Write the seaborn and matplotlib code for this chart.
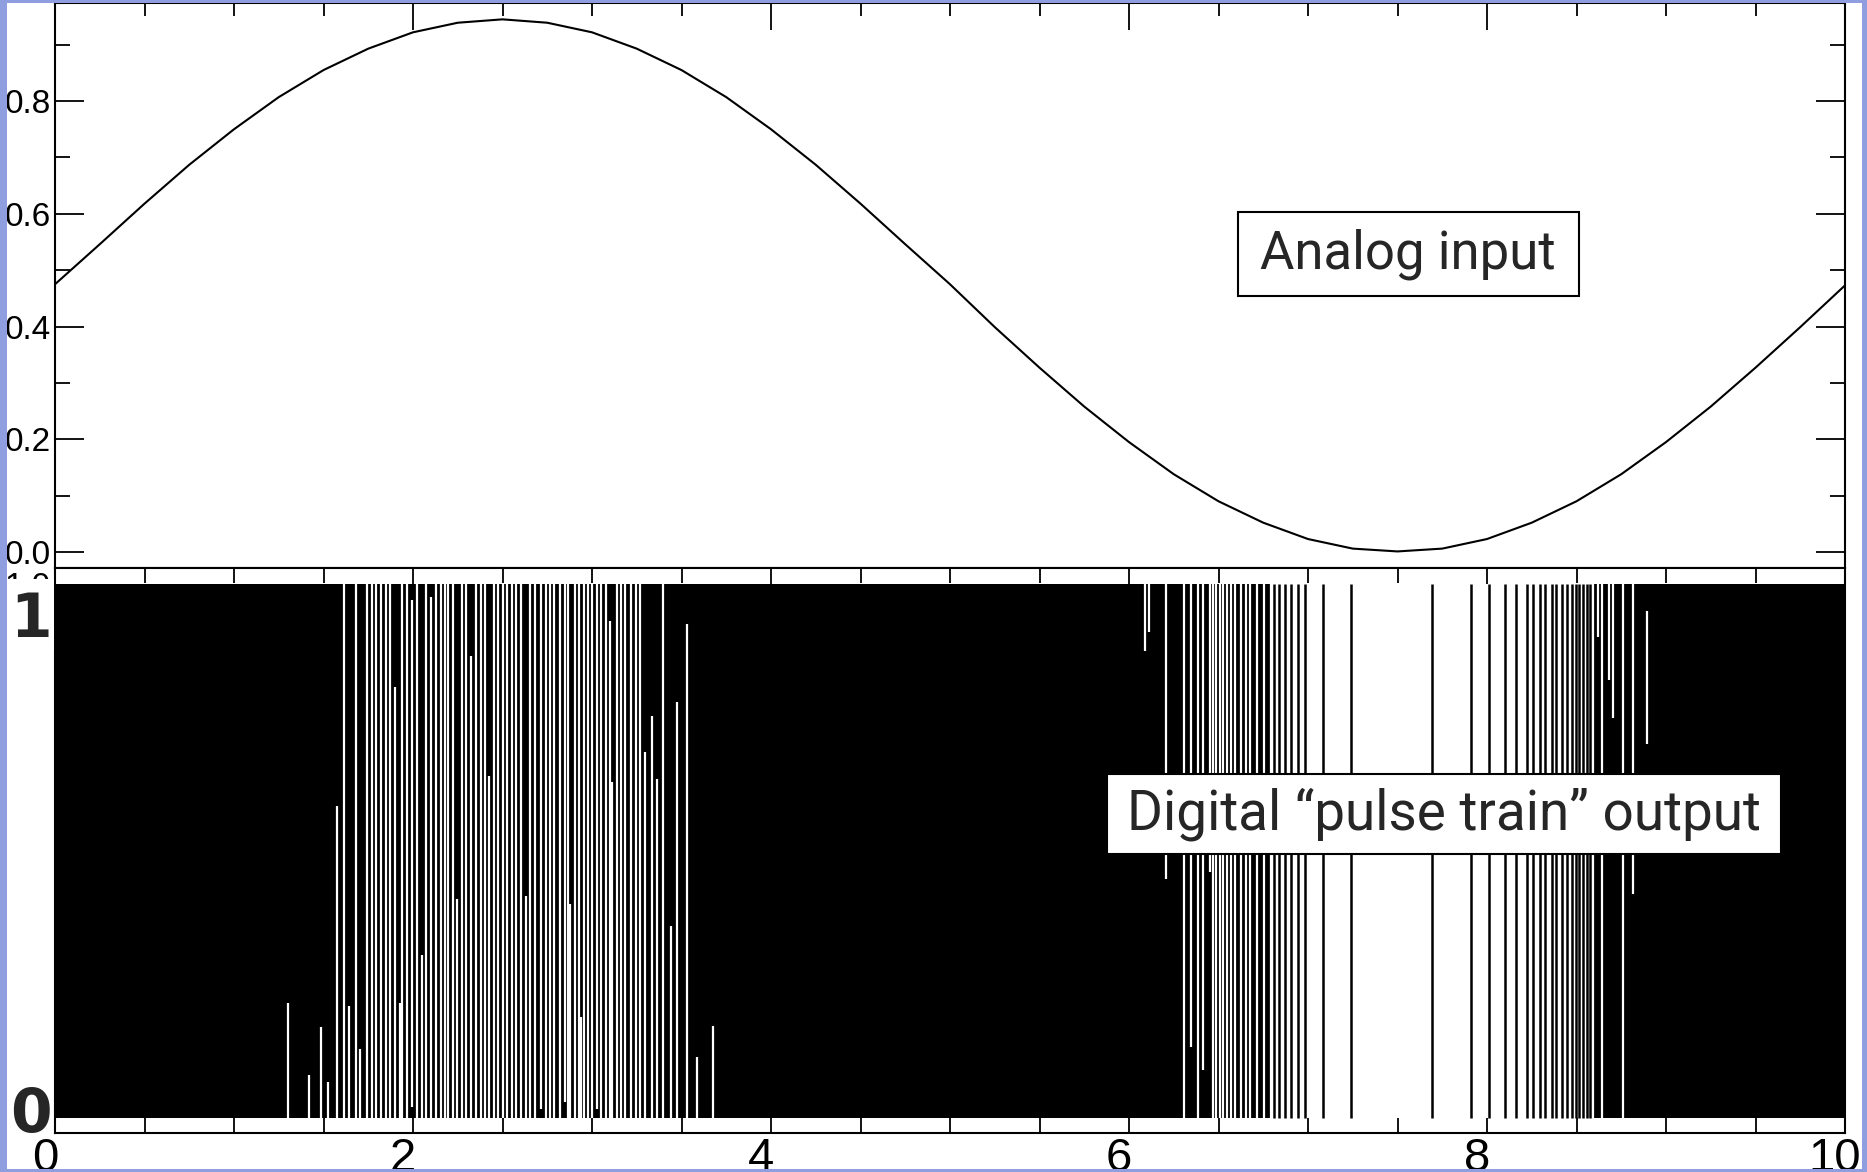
import numpy as np
import pandas as pd
import matplotlib
matplotlib.use("Agg")
import matplotlib.pyplot as plt
import seaborn as sns
from matplotlib import font_manager
from matplotlib.patches import Rectangle
from matplotlib.ticker import MultipleLocator, FixedLocator, FixedFormatter
from matplotlib.transforms import ScaledTranslation

# ---------------------------------------------------------------------------
# Analog input (sampled every 0.25 time units)
# ---------------------------------------------------------------------------
analog_t = np.arange(0, 10.001, 0.25)
analog_level = [
    0.475, 0.546, 0.618, 0.687, 0.750, 0.807, 0.855, 0.893, 0.922, 0.939,
    0.945, 0.939, 0.922, 0.893, 0.855, 0.807, 0.750, 0.687, 0.618, 0.546,
    0.475, 0.399, 0.327, 0.258, 0.195, 0.138, 0.090, 0.052, 0.023, 0.006,
    0.001, 0.006, 0.023, 0.052, 0.090, 0.138, 0.195, 0.258, 0.327, 0.399,
    0.473,
]

# ---------------------------------------------------------------------------
# Digital pulse train: the output sits at the high level except for the
# zero-gaps listed here (position, lower and upper extent of each gap).
# ---------------------------------------------------------------------------
gap_x = [
    1.303, 1.421, 1.484, 1.525, 1.575, 1.614, 1.641, 1.682, 1.706, 1.743,
    1.771, 1.795, 1.823, 1.849, 1.874, 1.902, 1.928, 1.941, 1.967, 1.995,
    2.023, 2.051, 2.074, 2.099, 2.128, 2.154, 2.177, 2.198, 2.222, 2.248,
    2.272, 2.297, 2.325, 2.351, 2.379, 2.403, 2.425, 2.450, 2.475, 2.500,
    2.526, 2.552, 2.578, 2.604, 2.631, 2.653, 2.680, 2.713, 2.741, 2.765,
    2.790, 2.821, 2.847, 2.867, 2.877, 2.903, 2.925, 2.940, 2.955, 2.978,
    3.000, 3.026, 3.050, 3.076, 3.100, 3.113, 3.138, 3.164, 3.186, 3.216,
    3.246, 3.270, 3.296, 3.337, 3.361, 3.399, 3.440, 3.477, 3.533, 3.585,
    3.676,
    6.087, 6.111, 6.204, 6.310, 6.348, 6.385, 6.413, 6.450, 6.469, 6.487,
    6.506, 6.525, 6.547, 6.568, 6.594, 6.627, 6.651, 6.678, 6.717, 6.754,
    6.795,
    8.594, 8.618, 8.641, 8.683, 8.706, 8.762, 8.814, 8.892,
]
gap_lo = [
    0, 0, 0, 0, 0, 0, 0, 0, 0, 0,
    0, 0, 0, 0, 0, 0, 0, 0, 0, 0.02,
    0, 0, 0, 0, 0, 0, 0, 0, 0, 0,
    0, 0, 0, 0, 0, 0, 0, 0, 0, 0,
    0, 0, 0, 0, 0, 0, 0, 0.017, 0, 0,
    0, 0, 0.03, 0, 0, 0, 0, 0, 0, 0,
    0, 0.017, 0, 0, 0, 0, 0, 0, 0, 0,
    0, 0, 0, 0, 0, 0, 0, 0, 0, 0,
    0,
    0.874, 0.91, 0.447, 0, 0.133, 0, 0.09, 0.46, 0, 0,
    0, 0, 0, 0, 0, 0, 0, 0, 0, 0,
    0,
    0, 0.90, 0, 0.82, 0.75, 0, 0.42, 0.70,
]
gap_hi = [
    0.215, 0.08, 0.17, 0.067, 0.584, 1, 0.21, 1, 0.13, 1,
    1, 1, 1, 1, 1, 0.807, 0.215, 1, 1, 0.97,
    1, 0.306, 1, 0.975, 1, 1, 1, 1, 1, 0.41,
    1, 1, 0.865, 1, 1, 1, 0.64, 1, 1, 1,
    1, 1, 1, 1, 0.416, 1, 1, 1, 1, 1,
    1, 1, 1, 1, 0.40, 1, 1, 0.19, 1, 1,
    1, 1, 1, 1, 0.93, 0.63, 1, 1, 1, 1,
    1, 1, 0.685, 0.753, 0.635, 1, 0.36, 0.78, 0.925, 0.114,
    0.172,
    1, 1, 1, 1, 1, 1, 1, 1, 1, 1,
    1, 1, 1, 1, 1, 1, 1, 1, 1, 1,
    1,
    1, 1, 1, 1, 1, 1, 1, 0.95,
]

# Stretch where the output is mostly low, with isolated high pulses
quiet_start, quiet_end = 6.80, 8.585
pulse_x = [
    6.812, 6.840, 6.870, 6.905, 6.945, 6.985, 7.084, 7.242, 7.690, 7.913,
    8.012, 8.100, 8.161, 8.225, 8.258, 8.296, 8.325, 8.361, 8.385, 8.417,
    8.445, 8.473, 8.497, 8.516, 8.538, 8.557, 8.575,
]

x_major = [0, 2, 4, 6, 8, 10]
x_major_labels = ["0", "2", "4", "6", "8", "10"]
y_major = [0.0, 0.2, 0.4, 0.6, 0.8]
y_major_labels = ["0.0", "0.2", "0.4", "0.6", "0.8"]

# ---------------------------------------------------------------------------
W, H, DPI = 1867, 1172, 100
sns.set_theme(style="white")


def pick_font(*names):
    available = {f.name for f in font_manager.fontManager.ttflist}
    for n in names:
        if n in available:
            return n
    return "DejaVu Sans"


axis_font = pick_font("Liberation Sans Narrow", "Liberation Sans",
                      "DejaVu Sans")
note_font = pick_font("Roboto", "Noto Sans", "DejaVu Sans")
plt.rcParams["font.family"] = [axis_font, "DejaVu Sans"]
plt.rcParams["axes.linewidth"] = 1.5
plt.rcParams["axes.edgecolor"] = "black"
plt.rcParams["xtick.color"] = "black"
plt.rcParams["ytick.color"] = "black"

fig = plt.figure(figsize=(W / DPI, H / DPI), dpi=DPI, facecolor="white")


def px_box(left, top, right, bottom):
    return [left / W, 1 - bottom / H, (right - left) / W, (bottom - top) / H]


ax_top = fig.add_axes(px_box(55, 3, 1845, 568))
ax_bot = fig.add_axes(px_box(55, 568, 1845, 1133))

# ---- analog panel ---------------------------------------------------------
analog = pd.DataFrame({"t": analog_t, "level": analog_level})
sns.lineplot(data=analog, x="t", y="level", ax=ax_top, color="black",
             linewidth=1.5)
ax_top.set_xlim(0, 10)
ax_top.set_ylim(-0.0284, 0.974)
ax_top.set_xlabel("")
ax_top.set_ylabel("")
ax_top.xaxis.set_major_locator(FixedLocator(x_major))
ax_top.xaxis.set_minor_locator(MultipleLocator(0.5))
ax_top.yaxis.set_major_locator(FixedLocator(y_major))
ax_top.yaxis.set_major_formatter(FixedFormatter(y_major_labels))
ax_top.yaxis.set_minor_locator(MultipleLocator(0.1))
ax_top.tick_params(axis="both", which="both", direction="in",
                   color="black", width=1.3)
ax_top.tick_params(axis="x", which="major", length=19.5, top=True,
                   bottom=False, labelbottom=False, labeltop=False)
ax_top.tick_params(axis="x", which="minor", length=9.5, top=True,
                   bottom=False)
ax_top.tick_params(axis="y", which="major", length=21, left=True,
                   right=True, labelsize=24, pad=3, labelcolor="black")
ax_top.tick_params(axis="y", which="minor", length=11, left=True, right=True)

ax_top.text(7.56, 0.528, "Analog input", ha="center", va="center",
            fontsize=38, family=[note_font, "DejaVu Sans"], zorder=5,
            bbox=dict(boxstyle="square,pad=0.43", mutation_aspect=0.72,
                      fc="white", ec="black", lw=1.5))

# ---- pulse-train panel ----------------------------------------------------
ax_bot.set_xlim(0, 10)
ax_bot.set_ylim(-0.028, 1.030)
ax_bot.fill_between([0, 10], 0, 1, color="black", lw=0, zorder=1)
ax_bot.vlines(gap_x, gap_lo, gap_hi, colors="white", linewidth=1.6,
              zorder=2)
ax_bot.fill_between([quiet_start, quiet_end], 0, 1, color="white", lw=0,
                    zorder=2)
ax_bot.vlines(pulse_x, 0, 1, colors="black", linewidth=1.8, zorder=3)

ax_bot.xaxis.set_major_locator(FixedLocator(x_major))
ax_bot.xaxis.set_major_formatter(FixedFormatter(x_major_labels))
ax_bot.xaxis.set_minor_locator(MultipleLocator(0.5))
ax_bot.set_yticks([1.0])
ax_bot.set_yticklabels(["1.0"])
ax_bot.tick_params(axis="both", which="both", direction="in",
                   color="black", width=1.3)
ax_bot.tick_params(axis="x", which="major", length=19.5, top=True,
                   bottom=True, labelsize=34, pad=3, labelcolor="black")
ax_bot.tick_params(axis="x", which="minor", length=11, top=True,
                   bottom=True)
ax_bot.tick_params(axis="y", which="both", length=0, labelsize=24, pad=3,
                   labelcolor="black")

ax_bot.text(7.76, 0.569, "Digital \u201cpulse train\u201d output",
            ha="center", va="center", fontsize=39.5,
            family=[note_font, "DejaVu Sans"], zorder=6,
            bbox=dict(boxstyle="square,pad=0.36", mutation_aspect=0.66,
                      fc="white", ec="black", lw=1.5))

# shift the bottom tick labels slightly left of their ticks
shift = ScaledTranslation(-10 / DPI, 0, fig.dpi_scale_trans)
for lab in ax_bot.get_xticklabels():
    lab.set_transform(lab.get_transform() + shift)

# ---- level markers "1" and "0" on the left --------------------------------
fig.add_artist(Rectangle((7 / W, 1 - 650 / H), 47 / W, (650 - 579) / H,
                         transform=fig.transFigure, fc="white", ec="none",
                         zorder=4))
fig.text(31 / W, 1 - 637 / H, "1", ha="center", va="baseline", fontsize=43,
         fontweight="bold", family="DejaVu Sans", zorder=5)
fig.text(31 / W, 1 - 1132 / H, "0", ha="center", va="baseline", fontsize=43,
         fontweight="bold", family="DejaVu Sans", zorder=5)

# ---- slide frame ----------------------------------------------------------
frame = "#8f9ede"
for (l, t, r, b) in [(0, 0, 7, H), (0, 0, W, 3), (1862, 0, W, H),
                     (0, 1169, W, H)]:
    fig.add_artist(Rectangle((l / W, 1 - b / H), (r - l) / W, (b - t) / H,
                             transform=fig.transFigure, fc=frame, ec="none",
                             zorder=10))

fig.savefig("out.png", dpi=DPI, facecolor="white")
